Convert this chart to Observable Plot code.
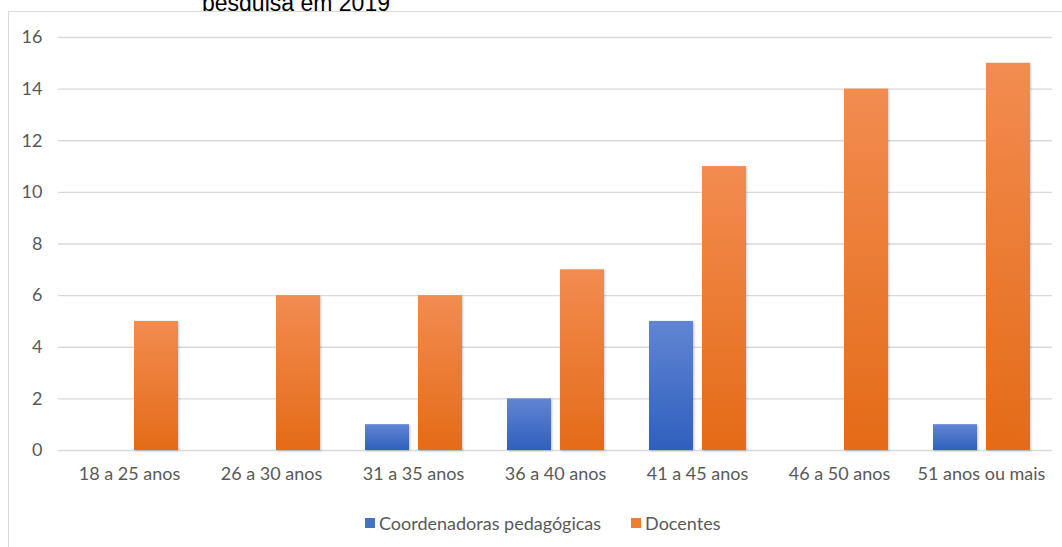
<!DOCTYPE html>
<html>
<head>
<meta charset="utf-8">
<script src="https://cdn.jsdelivr.net/npm/d3@7"></script>
<script src="https://cdn.jsdelivr.net/npm/@observablehq/plot@0.6"></script>
<style>
  html, body { margin: 0; padding: 0; background: #fff; }
  body { width: 1062px; height: 547px; position: relative; overflow: hidden; font-family: Lato, "Open Sans", sans-serif; }
  #title { position: absolute; left: 202px; top: -10px; font-family: "Liberation Sans", Arial, sans-serif; font-size: 23px; color: #000; white-space: nowrap; }
  #frame { position: absolute; left: 8px; top: 11px; width: 1100px; height: 600px; border: 1px solid #d9d9d9; background: #fff; }
  #chart { position: absolute; left: 0; top: 0; }
  #legend { position: absolute; top: 511px; left: 365px; display: flex; gap: 30px; font-size: 18px; line-height: 24px; color: #595959; white-space: nowrap; }
  #legend span.item { display: inline-flex; align-items: center; gap: 4px; }
  #legend span.sw { width: 10px; height: 10px; display: inline-block; }
</style>
</head>
<body>
<div id="title">pesquisa em 2019</div>
<div id="frame"></div>
<div id="chart"></div>
<div id="legend"></div>
<script>
// Age ranges of respondents
const faixas = ["18 a 25 anos", "26 a 30 anos", "31 a 35 anos", "36 a 40 anos", "41 a 45 anos", "46 a 50 anos", "51 anos ou mais"];
const series = ["Coordenadoras pedagógicas", "Docentes"];
const coordenadoras = [0, 0, 1, 2, 5, 0, 1];
const docentes = [5, 6, 6, 7, 11, 14, 15];
const yTicks = [0, 2, 4, 6, 8, 10, 12, 14, 16];
const colors = ["#4472c4", "#ed7d31"];
const gradients = ["url(#gradBlue)", "url(#gradOrange)"];

const rows = faixas.flatMap((f, i) => [
  {faixa: f, serie: series[0], valor: coordenadoras[i]},
  {faixa: f, serie: series[1], valor: docentes[i]}
]);

const chart = Plot.plot({
  width: 1062,
  height: 500,
  marginLeft: 58,
  marginRight: 10,
  marginTop: 37,
  marginBottom: 50,
  style: {fontFamily: "Lato, 'Open Sans', sans-serif", fontSize: "18px", color: "#595959", background: "transparent", overflow: "visible"},
  fx: {domain: faixas, padding: 0, label: null, tickSize: 0, tickPadding: 17},
  x: {domain: series, paddingInner: 0.17, paddingOuter: 0.4, axis: null},
  y: {domain: [0, 16], ticks: yTicks, label: null},
  color: {domain: series, range: gradients},
  marks: [
    Plot.gridY(yTicks, {stroke: "#d9d9d9", strokeOpacity: 1, strokeWidth: 1.3}),
    Plot.axisY(yTicks, {tickSize: 0, tickPadding: 16, fill: "#595959", label: null}),
    Plot.barY(rows, {fx: "faixa", x: "serie", y: "valor", fill: "serie", filter: d => d.valor > 0})
  ]
});

// Vertical gradients for the bar fills
const defs = d3.select(chart).insert("defs", ":first-child");
[["gradBlue", "#6185d3", "#2f5fbe"], ["gradOrange", "#f28c50", "#e46b17"]].forEach(([id, top, bottom]) => {
  const g = defs.append("linearGradient").attr("id", id).attr("x1", 0).attr("y1", 0).attr("x2", 0).attr("y2", 1);
  g.append("stop").attr("offset", "0%").attr("stop-color", top);
  g.append("stop").attr("offset", "100%").attr("stop-color", bottom);
});
d3.select(chart).selectAll("g[aria-label='bar'] rect").style("filter", "drop-shadow(1.5px 1px 1px rgba(0,0,0,0.22))");

document.getElementById("chart").appendChild(chart);

const legend = document.getElementById("legend");
series.forEach((s, i) => {
  const item = document.createElement("span");
  item.className = "item";
  const sw = document.createElement("span");
  sw.className = "sw";
  sw.style.background = colors[i];
  item.appendChild(sw);
  item.appendChild(document.createTextNode(s));
  legend.appendChild(item);
});
</script>
</body>
</html>
